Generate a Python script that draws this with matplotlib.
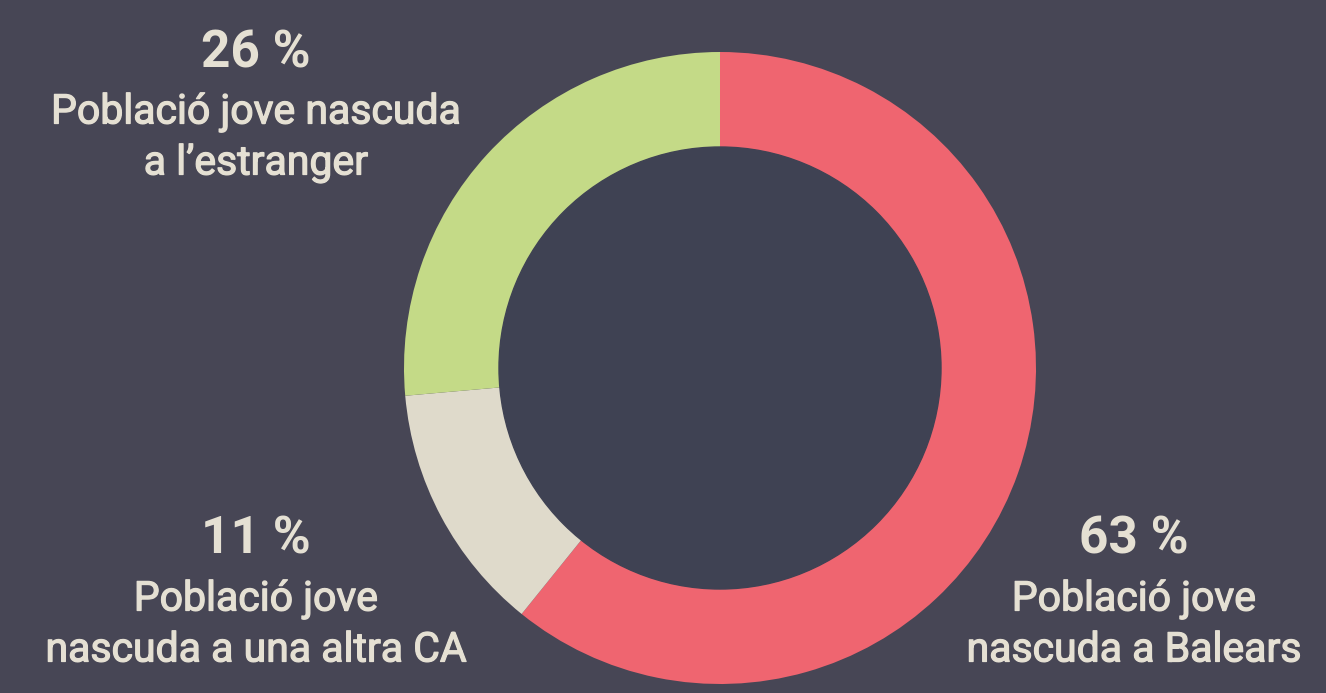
import matplotlib.pyplot as plt
import matplotlib.patheffects as pe
from matplotlib.patches import Circle

# Dades
categories = ["Població jove\nnascuda a Balears",
              "Població jove\nnascuda a una altra CA",
              "Població jove nascuda\na l\u2019estranger"]
labels_pct = [63, 11, 26]
# mida dels arcs tal com es dibuixen a la imatge
arc_values = [60.8, 12.8, 26.4]
colors = ["#ef6570", "#dfdacb", "#c4da87"]

bg = "#474655"
inner = "#3f4253"
txt = "#e5e0d3"

W, H = 1326, 693
fig = plt.figure(figsize=(W / 100, H / 100), dpi=100, facecolor=bg)
ax = fig.add_axes([0, 0, 1, 1])

cx, cy = 720, H - 368
ax.pie(arc_values, colors=colors, startangle=90, counterclock=False,
       radius=316, center=(cx, cy), frame=True,
       wedgeprops=dict(linewidth=0))
ax.add_patch(Circle((cx, cy), 221, color=inner, zorder=3))
ax.set_xlim(0, W)
ax.set_ylim(0, H)
ax.set_aspect("equal")
ax.axis("off")

# traç fi per fer el text una mica més gruixut (tipus "medium")
medium = [pe.withStroke(linewidth=0.9, foreground=txt)]

# posicions de les etiquetes (px des de dalt)
label_pos = [(1134, 540), (256, 540), (256, 53)]
for cat, v, (x, y) in zip(categories, labels_pct, label_pos):
    ax.text(x, H - y, f"{v} %", ha="center", va="center", color=txt,
            fontsize=37, fontweight="bold", family="Roboto")
    for i, line in enumerate(cat.split("\n")):
        ax.text(x, H - (y + 59 + 51 * i), line, ha="center", va="center",
                color=txt, fontsize=29.5, family="Roboto",
                path_effects=medium)

fig.savefig("out.png", dpi=100, facecolor=bg)
